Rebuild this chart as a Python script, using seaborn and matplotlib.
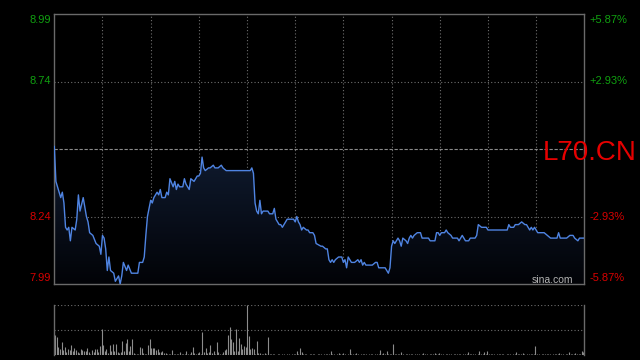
import matplotlib
matplotlib.use("Agg")
import matplotlib.pyplot as plt
from matplotlib.colors import LinearSegmentedColormap
import seaborn as sns
import numpy as np

# price trace: minute of session (0-330) and price
minutes = [0, 1, 3, 4, 5, 6, 7, 8, 9, 10, 11, 13, 14, 15, 16, 18, 20, 21, 22, 24,
           26, 28, 29, 30, 31, 32, 33, 34, 35, 37, 38, 40, 41, 42, 43, 45, 46, 48, 52, 53,
           55, 56, 57, 58, 60, 61, 62, 64, 65, 66, 67, 69, 70, 71, 72, 74, 75, 76, 77, 78,
           80, 81, 82, 84, 85, 87, 88, 89, 90, 91, 92, 93, 94, 96, 97, 99, 100, 102, 104, 105,
           107, 109, 122, 123, 124, 125, 126, 127, 128, 129, 130, 132, 133, 134, 136, 137, 138, 139, 140, 141,
           142, 144, 145, 149, 150, 151, 152, 153, 154, 155, 157, 158, 159, 160, 161, 162, 163, 166, 167, 169,
           170, 171, 172, 173, 174, 175, 177, 179, 180, 181, 182, 183, 184, 185, 187, 189, 190, 191, 192, 193,
           194, 198, 200, 201, 202, 204, 206, 207, 208, 209, 210, 211, 212, 214, 215, 216, 217, 219, 220, 221,
           222, 223, 224, 226, 228, 229, 233, 234, 237, 238, 239, 240, 241, 243, 244, 245, 247, 248, 249, 251,
           252, 253, 254, 255, 256, 258, 259, 262, 263, 264, 266, 269, 270, 282, 283, 284, 286, 287, 289, 291,
           293, 294, 295, 296, 297, 298, 299, 301, 305, 307, 309, 313, 314, 315, 319, 321, 323, 324, 326, 327,
           330]
prices = [8.50, 8.37, 8.33, 8.31, 8.33, 8.29, 8.20, 8.19, 8.20, 8.15, 8.20, 8.19, 8.23, 8.32, 8.26, 8.31, 8.24, 8.22, 8.18, 8.17,
          8.14, 8.13, 8.10, 8.17, 8.16, 8.12, 8.04, 8.09, 8.04, 8.03, 8.00, 8.02, 7.99, 8.02, 8.07, 8.04, 8.06, 8.03, 8.03, 8.07,
          8.07, 8.09, 8.17, 8.24, 8.30, 8.29, 8.31, 8.33, 8.32, 8.34, 8.31, 8.31, 8.33, 8.32, 8.38, 8.35, 8.37, 8.34, 8.36, 8.35,
          8.35, 8.38, 8.36, 8.34, 8.38, 8.37, 8.38, 8.39, 8.39, 8.40, 8.46, 8.42, 8.41, 8.42, 8.42, 8.43, 8.42, 8.42, 8.43, 8.42,
          8.41, 8.41, 8.41, 8.42, 8.40, 8.29, 8.26, 8.25, 8.30, 8.25, 8.26, 8.26, 8.26, 8.25, 8.25, 8.27, 8.23, 8.22, 8.21, 8.21,
          8.20, 8.22, 8.23, 8.23, 8.22, 8.24, 8.22, 8.21, 8.19, 8.20, 8.19, 8.19, 8.18, 8.18, 8.18, 8.17, 8.14, 8.13, 8.13, 8.12,
          8.12, 8.08, 8.07, 8.08, 8.07, 8.08, 8.09, 8.09, 8.07, 8.08, 8.05, 8.09, 8.08, 8.07, 8.07, 8.08, 8.07, 8.08, 8.06, 8.07,
          8.06, 8.06, 8.07, 8.07, 8.05, 8.05, 8.05, 8.04, 8.03, 8.05, 8.13, 8.15, 8.14, 8.16, 8.15, 8.13, 8.16, 8.15, 8.14, 8.16,
          8.17, 8.16, 8.17, 8.18, 8.18, 8.16, 8.16, 8.15, 8.15, 8.18, 8.18, 8.17, 8.18, 8.18, 8.19, 8.18, 8.17, 8.16, 8.16, 8.16,
          8.15, 8.16, 8.17, 8.16, 8.15, 8.15, 8.16, 8.16, 8.17, 8.21, 8.20, 8.20, 8.19, 8.19, 8.21, 8.20, 8.20, 8.21, 8.21, 8.22,
          8.21, 8.21, 8.20, 8.19, 8.20, 8.19, 8.20, 8.18, 8.18, 8.17, 8.16, 8.16, 8.18, 8.16, 8.16, 8.17, 8.17, 8.16, 8.15, 8.16,
          8.16]

# volume per minute (relative units, max = 100)
volume = [40, 37, 17, 13, 27, 10, 17, 7, 12, 10,
          20, 8, 15, 10, 7, 5, 12, 11, 8, 8,
          15, 7, 3, 10, 7, 12, 12, 7, 19, 52,
          21, 8, 12, 5, 21, 8, 23, 8, 23, 7,
          5, 7, 28, 8, 25, 32, 8, 19, 32, 5,
          3, 3, 2, 17, 15, 5, 3, 3, 21, 32,
          15, 15, 15, 10, 13, 7, 7, 8, 5, 5,
          3, 3, 2, 10, 3, 2, 3, 2, 7, 2,
          3, 2, 8, 3, 2, 7, 17, 5, 3, 5,
          7, 3, 47, 7, 15, 5, 7, 20, 5, 8,
          2, 27, 7, 3, 3, 7, 10, 12, 41, 57,
          32, 27, 8, 52, 8, 35, 23, 12, 19, 17,
          100, 39, 12, 15, 13, 2, 28, 5, 5, 3,
          2, 5, 3, 37, 3, 2, 3, 2, 1, 2,
          2, 1, 3, 2, 1, 2, 2, 1, 2, 2,
          2, 8, 3, 15, 7, 2, 3, 2, 1, 2,
          2, 3, 2, 1, 2, 2, 2, 1, 2, 3,
          2, 2, 8, 2, 2, 1, 2, 5, 2, 2,
          5, 2, 1, 2, 12, 2, 2, 3, 5, 2,
          1, 2, 2, 3, 2, 1, 2, 2, 2, 1,
          2, 3, 2, 10, 2, 5, 2, 8, 3, 2,
          2, 23, 3, 2, 2, 2, 7, 2, 1, 2,
          2, 2, 3, 2, 1, 2, 2, 2, 1, 2,
          5, 2, 2, 1, 2, 2, 3, 5, 2, 2,
          5, 2, 2, 1, 2, 3, 2, 2, 1, 2,
          2, 2, 3, 2, 1, 2, 2, 2, 7, 2,
          2, 3, 2, 1, 2, 8, 2, 2, 7, 2,
          8, 2, 3, 2, 2, 1, 2, 2, 2, 3,
          2, 1, 2, 2, 2, 1, 3, 2, 7, 2,
          2, 2, 4, 2, 1, 2, 2, 3, 2, 2,
          18, 2, 2, 1, 2, 2, 2, 3, 2, 2,
          1, 2, 2, 3, 2, 5, 2, 2, 1, 2,
          2, 7, 2, 3, 2, 4, 2, 2, 3, 8,
          7]

prev_close = 8.49
price_levels = [8.99, 8.74, 8.24, 7.99]
price_labels = ["8.99", "8.74", "8.24", "7.99"]
pct_labels = ["+5.87%", "+2.93%", "-2.93%", "-5.87%"]
level_colors = ["#10a010", "#10a010", "#d80000", "#d80000"]
label_shift = [-4.3, 0, 0, 4.5]   # points, keeps edge labels inside the frame

sns.set_theme(style="dark")
plt.rcParams['font.family'] = ['Liberation Sans', 'DejaVu Sans']

fig = plt.figure(figsize=(6.4, 3.6), dpi=100, facecolor="black")
ax = fig.add_axes([54.3 / 640, 76 / 360, 530 / 640, 270 / 360])
axv = fig.add_axes([54.3 / 640, 5 / 360, 530 / 640, 50 / 360])

frame = "#6a6a6a"
grid = "#6e6e6e"
for a in (ax, axv):
    a.set_facecolor("black")
    a.set_xticks([])
    a.set_yticks([])
    a.grid(False)
    for s in a.spines.values():
        s.set_color(frame)
        s.set_linewidth(1.0)

ax.set_xlim(0, 330)
ax.set_ylim(7.99, 8.99)

# grid
for m in range(30, 330, 30):
    ax.axvline(m, color=grid, lw=0.8, ls=(0, (1, 2)), zorder=1)
for lv in (8.74, 8.24):
    ax.axhline(lv, color=grid, lw=0.8, ls=(0, (1, 2)), zorder=1)
ax.axhline(prev_close, color="#8a8a8a", lw=0.8, ls=(0, (3, 1.5)), zorder=1)

# gradient fill under the line
poly = ax.fill_between(minutes, prices, 7.99, color="none", lw=0)
cmap = LinearSegmentedColormap.from_list("fill", ["#020307", "#0f1a2e"])
grad = np.linspace(0, 1, 256).reshape(-1, 1)
img = ax.imshow(grad, cmap=cmap, origin="lower", aspect="auto",
                extent=[0, 330, 7.99, 8.47], zorder=2)
img.set_clip_path(poly.get_paths()[0], transform=ax.transData)
ax.set_xlim(0, 330)
ax.set_ylim(7.99, 8.99)

sns.lineplot(x=minutes, y=prices, ax=ax, color="#4f84e2", lw=1.0, zorder=3)
ax.set_xlabel("")
ax.set_ylabel("")

for lv, lab, pct, col, dy in zip(price_levels, price_labels, pct_labels, level_colors, label_shift):
    ax.annotate(lab, xy=(0, lv), xycoords=("axes fraction", "data"), xytext=(-2.5, dy),
                textcoords="offset points", ha="right", va="center", color=col, fontsize=8)
    ax.annotate(pct, xy=(1, lv), xycoords=("axes fraction", "data"), xytext=(4, dy),
                textcoords="offset points", ha="left", va="center", color=col, fontsize=8)

ax.text(0.9787, 0.004, "sina.com", transform=ax.transAxes, ha="right", va="baseline",
        color="#b4b4b4", fontsize=7.5, zorder=4)

# volume panel
axv.set_xlim(-0.5, 330.5)
axv.set_ylim(0, 100)
axv.spines["top"].set_visible(False)
axv.spines["bottom"].set_visible(False)
for lv in (100, 50):
    axv.axhline(lv, color=grid, lw=0.8, ls=(0, (1, 2)), zorder=1)
axv.vlines(range(len(volume)), 0, volume, color="#8c8c8c", lw=0.8, zorder=2)

fig.text(637 / 640, (360 - 160.5) / 360, "L70.CN", ha="right", va="baseline",
         color="#e60000", fontsize=20)

fig.savefig("out.png", dpi=100, facecolor="black")
